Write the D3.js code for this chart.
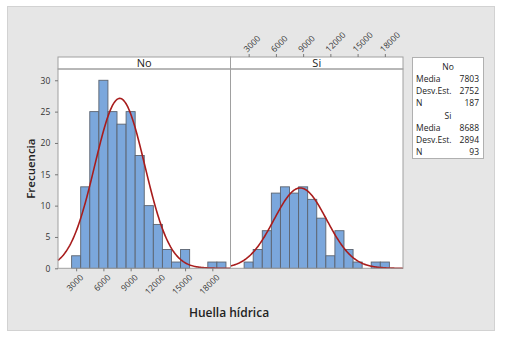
<!DOCTYPE html>
<html><head><meta charset="utf-8">
<script src="https://cdn.jsdelivr.net/npm/d3@7"></script>
<style>body{margin:0;background:#fff}svg{display:block}text{font-family:"Open Sans","Noto Sans",sans-serif}</style>
</head><body>
<svg id="c" width="515" height="358"></svg>
<script>
const binCenters = [3000,4000,5000,6000,7000,8000,9000,10000,11000,12000,13000,14000,15000,16000,17000,18000,19000];
const countsNo = [2,13,25,30,25,23,25,18,10,7,3,1,3,0,0,1,1];
const countsSi = [1,3,6,12,13,12,13,11,8,2,6,3,1,0,1,1,0];
const groups = ["No","Si"];
const means = [7803, 8688];
const sds = [2752, 2894];
const ns = [187, 93];
const xTicks = [3000,6000,9000,12000,15000,18000];
const yTicks = [0,5,10,15,20,25,30];
const binWidth = 1000;

(function(){
const svg = d3.select("#c");
svg.append("rect").attr("x",7.5).attr("y",6.5).attr("width",487).attr("height",324)
  .attr("fill","#e6e6e6").attr("stroke","#d2d2d2");

const panelW = 172.5, left0 = 58, pTop = 69, pBottom = 268.3, headTop = 57;
const y = d3.scaleLinear().domain([0,31.8]).range([pBottom, pTop]);
const series = [countsNo, countsSi];

groups.forEach((g,i)=>{
  const x0 = left0 + i*panelW;
  const x = d3.scaleLinear().domain([1000,20000]).range([x0, x0+panelW]);
  const p = svg.append("g");
  p.append("rect").attr("x",x0).attr("y",pTop).attr("width",panelW).attr("height",pBottom-pTop).attr("fill","#fff");
  p.append("rect").attr("x",x0).attr("y",headTop).attr("width",panelW).attr("height",pTop-headTop)
    .attr("fill","#fff").attr("stroke","#a0a0a0");
  p.append("text").attr("x",x0+panelW/2).attr("y",(headTop+pTop)/2+4).attr("text-anchor","middle")
    .attr("font-size",11).attr("fill","#222").text(g);
  const data = binCenters.map((c,k)=>({c, v: series[i][k]})).filter(d=>d.v>0);
  p.selectAll("rect.bar").data(data).enter().append("rect").attr("class","bar")
    .attr("x",d=>x(d.c-binWidth/2)).attr("width",d=>x(d.c+binWidth/2)-x(d.c-binWidth/2))
    .attr("y",d=>y(d.v)).attr("height",d=>pBottom-y(d.v))
    .attr("fill","#7ba7dc").attr("stroke","#5c6470").attr("stroke-width",0.9);
  const scale = ns[i]*binWidth/(sds[i]*Math.sqrt(2*Math.PI));
  const pts = d3.range(1000,20001,100).map(v=>[v, scale*Math.exp(-0.5*Math.pow((v-means[i])/sds[i],2))]);
  p.append("path").attr("d", d3.line().x(d=>x(d[0])).y(d=>y(d[1]))(pts))
    .attr("fill","none").attr("stroke","#a81c1c").attr("stroke-width",1.6);
  p.append("rect").attr("x",x0).attr("y",pTop).attr("width",panelW).attr("height",pBottom-pTop)
    .attr("fill","none").attr("stroke","#a0a0a0");
  if(i===0){
    const ax = p.append("g").attr("transform",`translate(0,${pBottom})`)
      .call(d3.axisBottom(x).tickValues(xTicks).tickSize(3).tickFormat(d3.format("d")));
    ax.select(".domain").remove();
    ax.selectAll("line").attr("stroke","#777");
    ax.selectAll("text").attr("font-size",8.5).attr("fill","#333").attr("text-anchor","end")
      .attr("transform","rotate(-45)").attr("dx","-0.2em").attr("dy","0.7em");
    const ay = p.append("g").attr("transform",`translate(${x0},0)`)
      .call(d3.axisLeft(y).tickValues(yTicks).tickSize(3));
    ay.select(".domain").remove();
    ay.selectAll("line").attr("stroke","#777");
    ay.selectAll("text").attr("font-size",8.5).attr("fill","#333").attr("dx","-0.2em");
  } else {
    const ax = p.append("g").attr("transform",`translate(0,${headTop})`)
      .call(d3.axisTop(x).tickValues(xTicks).tickSize(3).tickFormat(d3.format("d")));
    ax.select(".domain").remove();
    ax.selectAll("line").attr("stroke","#777");
    ax.selectAll("text").attr("font-size",8.5).attr("fill","#333").attr("text-anchor","start")
      .attr("transform","rotate(-45)").attr("dx","0.2em").attr("dy","0.2em");
  }
});

svg.append("text").attr("transform",`translate(35,${(pTop+pBottom)/2}) rotate(-90)`)
  .attr("text-anchor","middle").attr("font-size",11.5).attr("font-weight",600).attr("fill","#222").text("Frecuencia");
svg.append("text").attr("x",229).attr("y",317).attr("text-anchor","middle")
  .attr("font-size",12).attr("font-weight",600).attr("fill","#222").text("Huella hídrica");

const lg = svg.append("g");
lg.append("rect").attr("x",412.5).attr("y",57.5).attr("width",71).attr("height",101).attr("fill","#fff").attr("stroke","#b0b0b0");
const rowLabels = ["Media","Desv.Est.","N"];
groups.forEach((g,i)=>{
  const base = 70 + i*48.5;
  lg.append("text").attr("x",448).attr("y",base).attr("text-anchor","middle").attr("font-size",8.5).attr("fill","#222").text(g);
  const vals = [means[i], sds[i], ns[i]];
  rowLabels.forEach((r,k)=>{
    const yy = base + 12*(k+1);
    lg.append("text").attr("x",416).attr("y",yy).attr("font-size",8.5).attr("fill","#222").text(r);
    lg.append("text").attr("x",479).attr("y",yy).attr("text-anchor","end").attr("font-size",8.5).attr("fill","#222").text(vals[k]);
  });
});
})();
</script>
</body></html>
